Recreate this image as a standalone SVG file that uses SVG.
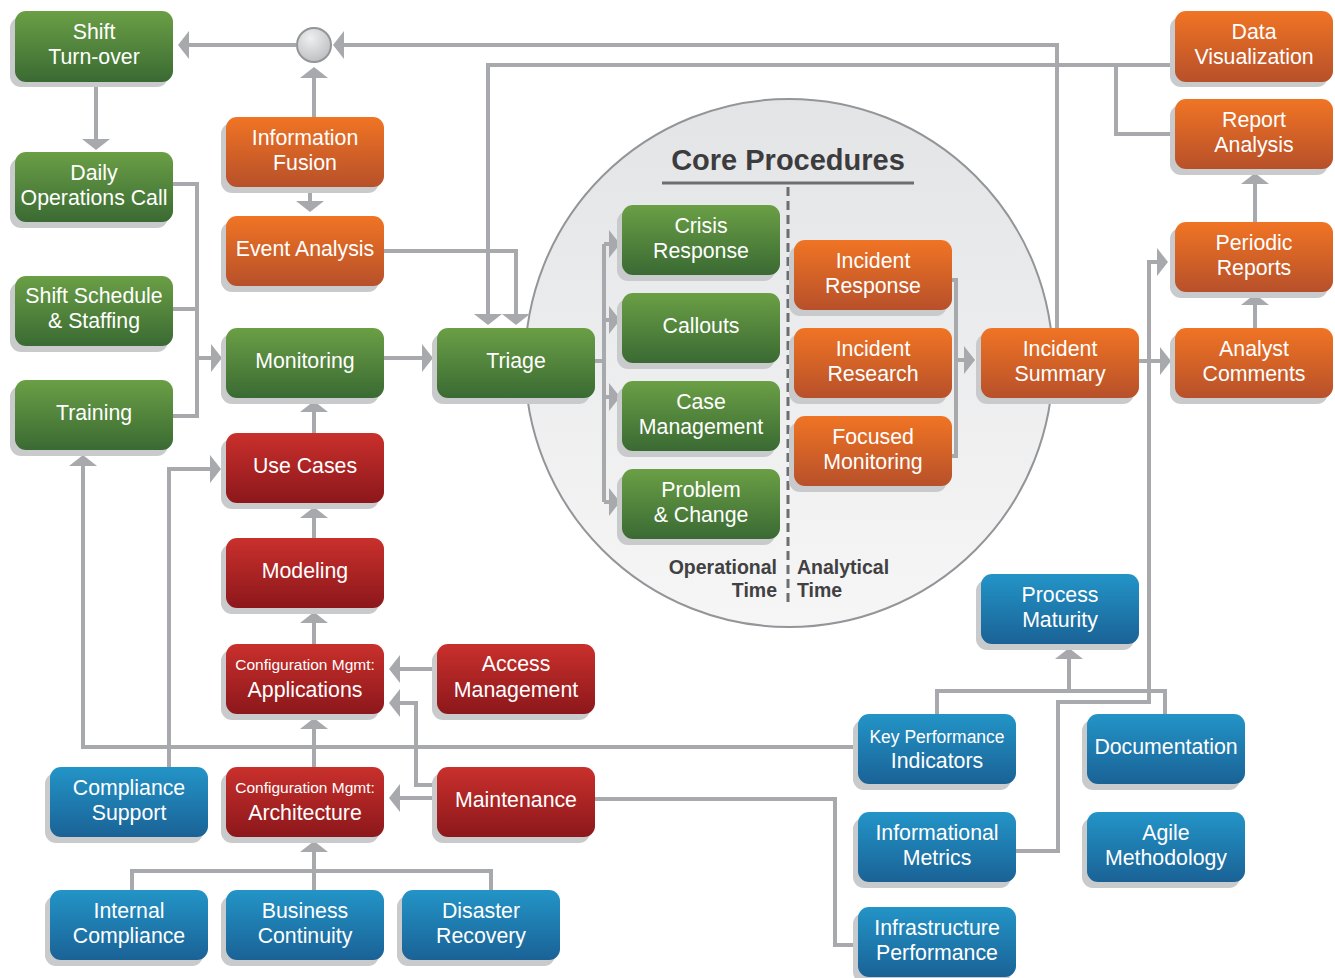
<svg xmlns="http://www.w3.org/2000/svg" width="1335" height="978" viewBox="0 0 1335 978">
<style>
.sh{fill:#c9cacc}
.g{fill:url(#gG)}.o{fill:url(#gO)}.r{fill:url(#gR)}.b{fill:url(#gB)}
.t{font-family:"Liberation Sans",Arial,sans-serif;font-size:21.3px;fill:#fff;text-anchor:middle}
.ts{font-size:15.5px}.tm{font-size:17.5px}
.c{fill:none;stroke:#a7a9ac;stroke-width:4}
.lbl{font-family:"Liberation Sans",Arial,sans-serif;font-weight:bold;font-size:19.5px;fill:#414042}
</style>
<defs>
<linearGradient id="gG" x1="0" y1="0" x2="0" y2="1"><stop offset="0" stop-color="#6a9f45"/><stop offset="1" stop-color="#3a6a33"/></linearGradient>
<linearGradient id="gO" x1="0" y1="0" x2="0" y2="1"><stop offset="0" stop-color="#f07424"/><stop offset="1" stop-color="#b7502a"/></linearGradient>
<linearGradient id="gR" x1="0" y1="0" x2="0" y2="1"><stop offset="0" stop-color="#c9302c"/><stop offset="1" stop-color="#8c171b"/></linearGradient>
<linearGradient id="gB" x1="0" y1="0" x2="0" y2="1"><stop offset="0" stop-color="#2394c7"/><stop offset="1" stop-color="#1a6296"/></linearGradient>
<linearGradient id="gC" x1="0" y1="0" x2="0" y2="1"><stop offset="0" stop-color="#e3e4e5"/><stop offset="1" stop-color="#f6f6f7"/></linearGradient>
<radialGradient id="gJ" cx="0.4" cy="0.3" r="0.8"><stop offset="0" stop-color="#eeeff0"/><stop offset="1" stop-color="#b8babd"/></radialGradient>
<marker id="ah" markerUnits="userSpaceOnUse" markerWidth="11" markerHeight="28" viewBox="0 0 11 28" refX="6" refY="14" orient="auto"><path d="M0,0 L11,14 L0,28 Z" fill="#a7a9ac"/></marker>
</defs>

<g id="core-procedures">
<circle cx="789" cy="363" r="264" fill="url(#gC)" stroke="#939598" stroke-width="2"/>
<text x="788" y="170" font-family="Liberation Sans,Arial,sans-serif" font-weight="bold" font-size="29" fill="#3c3c3e" text-anchor="middle">Core Procedures</text>
<line x1="662" y1="183" x2="914" y2="183" stroke="#6d6e71" stroke-width="3"/>
<line x1="788" y1="187" x2="788" y2="603" stroke="#6d6e71" stroke-width="3" stroke-dasharray="9 5"/>
<text class="lbl" x="777" y="574" text-anchor="end">Operational</text>
<text class="lbl" x="777" y="597" text-anchor="end">Time</text>
<text class="lbl" x="797" y="574">Analytical</text>
<text class="lbl" x="797" y="597">Time</text>
</g>

<g id="connectors">
<path class="c" d="M296,45 H183" marker-end="url(#ah)"/>
<path class="c" d="M1057,328 V45 H338" marker-end="url(#ah)"/>
<path class="c" d="M314,117 V72" marker-end="url(#ah)"/>
<path class="c" d="M310,187 V207" marker-end="url(#ah)"/>
<path class="c" d="M96,82 V145" marker-end="url(#ah)"/>
<path class="c" d="M173,184 H197 V416 H173 M173,309 H197"/>
<path class="c" d="M197,358 H217" marker-end="url(#ah)"/>
<path class="c" d="M384,358 H428" marker-end="url(#ah)"/>
<path class="c" d="M314,433 V406" marker-end="url(#ah)"/>
<path class="c" d="M314,538 V512" marker-end="url(#ah)"/>
<path class="c" d="M314,644 V617" marker-end="url(#ah)"/>
<path class="c" d="M314,767 V723" marker-end="url(#ah)"/>
<path class="c" d="M132,890 V871 H491 V890"/>
<path class="c" d="M314,890 V846" marker-end="url(#ah)"/>
<path class="c" d="M437,669 H394" marker-end="url(#ah)"/>
<path class="c" d="M437,785 H416 V703 H394" marker-end="url(#ah)"/>
<path class="c" d="M437,798 H394" marker-end="url(#ah)"/>
<path class="c" d="M595,799 H835 V945 H858"/>
<path class="c" d="M858,747 H83 V460" marker-end="url(#ah)"/>
<path class="c" d="M169,767 V469 H216" marker-end="url(#ah)"/>
<path class="c" d="M937,714 V691 H1165 V714"/>
<path class="c" d="M1069,691 V653" marker-end="url(#ah)"/>
<path class="c" d="M1016,851 H1058 V702 H1149 V262 H1163" marker-end="url(#ah)"/>
<path class="c" d="M1139,361 H1166" marker-end="url(#ah)"/>
<path class="c" d="M1255,328 V299" marker-end="url(#ah)"/>
<path class="c" d="M1255,222 V178" marker-end="url(#ah)"/>
<path class="c" d="M1175,65 H488 V320" marker-end="url(#ah)"/>
<path class="c" d="M1175,134 H1116 V65"/>
<path class="c" d="M384,251 H516 V320" marker-end="url(#ah)"/>
<path class="c" d="M595,361 H604 M604,244 V502"/>
<path class="c" d="M604,244 H615" marker-end="url(#ah)"/>
<path class="c" d="M604,320 H615" marker-end="url(#ah)"/>
<path class="c" d="M604,397 H615" marker-end="url(#ah)"/>
<path class="c" d="M604,502 H615" marker-end="url(#ah)"/>
<path class="c" d="M952,280 H956 V456 H952"/>
<path class="c" d="M956,360 H970" marker-end="url(#ah)"/>
<circle cx="314" cy="45" r="17" fill="url(#gJ)" stroke="#939598" stroke-width="2"/>
</g>

<g id="shift-turnover"><rect class="sh" x="10" y="17" width="158" height="70" rx="11"/><rect class="g" x="15" y="11" width="158" height="71" rx="11"/><text class="t" x="94" y="39">Shift</text><text class="t" x="94" y="64">Turn-over</text></g>
<g id="daily-operations-call"><rect class="sh" x="10" y="158" width="158" height="70" rx="11"/><rect class="g" x="15" y="152" width="158" height="70" rx="11"/><text class="t" x="94" y="180">Daily</text><text class="t" x="94" y="205">Operations Call</text></g>
<g id="shift-schedule"><rect class="sh" x="10" y="282" width="158" height="70" rx="11"/><rect class="g" x="15" y="276" width="158" height="70" rx="11"/><text class="t" x="94" y="303">Shift Schedule</text><text class="t" x="94" y="328">&amp; Staffing</text></g>
<g id="training"><rect class="sh" x="10" y="386" width="158" height="70" rx="11"/><rect class="g" x="15" y="380" width="158" height="70" rx="11"/><text class="t" x="94" y="420">Training</text></g>
<g id="monitoring"><rect class="sh" x="221" y="334" width="158" height="70" rx="11"/><rect class="g" x="226" y="328" width="158" height="70" rx="11"/><text class="t" x="305" y="368">Monitoring</text></g>
<g id="triage"><rect class="sh" x="432" y="334" width="158" height="70" rx="11"/><rect class="g" x="437" y="328" width="158" height="70" rx="11"/><text class="t" x="516" y="368">Triage</text></g>
<g id="crisis-response"><rect class="sh" x="617" y="211" width="158" height="70" rx="11"/><rect class="g" x="622" y="205" width="158" height="70" rx="11"/><text class="t" x="701" y="233">Crisis</text><text class="t" x="701" y="258">Response</text></g>
<g id="callouts"><rect class="sh" x="617" y="299" width="158" height="70" rx="11"/><rect class="g" x="622" y="293" width="158" height="70" rx="11"/><text class="t" x="701" y="333">Callouts</text></g>
<g id="case-management"><rect class="sh" x="617" y="387" width="158" height="70" rx="11"/><rect class="g" x="622" y="381" width="158" height="70" rx="11"/><text class="t" x="701" y="409">Case</text><text class="t" x="701" y="434">Management</text></g>
<g id="problem-change"><rect class="sh" x="617" y="475" width="158" height="70" rx="11"/><rect class="g" x="622" y="469" width="158" height="70" rx="11"/><text class="t" x="701" y="497">Problem</text><text class="t" x="701" y="522">&amp; Change</text></g>

<g id="information-fusion"><rect class="sh" x="221" y="123" width="158" height="70" rx="11"/><rect class="o" x="226" y="117" width="158" height="70" rx="11"/><text class="t" x="305" y="145">Information</text><text class="t" x="305" y="170">Fusion</text></g>
<g id="event-analysis"><rect class="sh" x="221" y="222" width="158" height="70" rx="11"/><rect class="o" x="226" y="216" width="158" height="70" rx="11"/><text class="t" x="305" y="256">Event Analysis</text></g>
<g id="incident-response"><rect class="sh" x="789" y="246" width="158" height="70" rx="11"/><rect class="o" x="794" y="240" width="158" height="70" rx="11"/><text class="t" x="873" y="268">Incident</text><text class="t" x="873" y="293">Response</text></g>
<g id="incident-research"><rect class="sh" x="789" y="334" width="158" height="70" rx="11"/><rect class="o" x="794" y="328" width="158" height="70" rx="11"/><text class="t" x="873" y="356">Incident</text><text class="t" x="873" y="381">Research</text></g>
<g id="focused-monitoring"><rect class="sh" x="789" y="422" width="158" height="70" rx="11"/><rect class="o" x="794" y="416" width="158" height="70" rx="11"/><text class="t" x="873" y="444">Focused</text><text class="t" x="873" y="469">Monitoring</text></g>
<g id="incident-summary"><rect class="sh" x="976" y="334" width="158" height="70" rx="11"/><rect class="o" x="981" y="328" width="158" height="70" rx="11"/><text class="t" x="1060" y="356">Incident</text><text class="t" x="1060" y="381">Summary</text></g>
<g id="data-visualization"><rect class="sh" x="1170" y="17" width="158" height="70" rx="11"/><rect class="o" x="1175" y="11" width="158" height="71" rx="11"/><text class="t" x="1254" y="39">Data</text><text class="t" x="1254" y="64">Visualization</text></g>
<g id="report-analysis"><rect class="sh" x="1170" y="105" width="158" height="70" rx="11"/><rect class="o" x="1175" y="99" width="158" height="70" rx="11"/><text class="t" x="1254" y="127">Report</text><text class="t" x="1254" y="152">Analysis</text></g>
<g id="periodic-reports"><rect class="sh" x="1170" y="228" width="158" height="70" rx="11"/><rect class="o" x="1175" y="222" width="158" height="70" rx="11"/><text class="t" x="1254" y="250">Periodic</text><text class="t" x="1254" y="275">Reports</text></g>
<g id="analyst-comments"><rect class="sh" x="1170" y="334" width="158" height="70" rx="11"/><rect class="o" x="1175" y="328" width="158" height="70" rx="11"/><text class="t" x="1254" y="356">Analyst</text><text class="t" x="1254" y="381">Comments</text></g>

<g id="use-cases"><rect class="sh" x="221" y="439" width="158" height="70" rx="11"/><rect class="r" x="226" y="433" width="158" height="70" rx="11"/><text class="t" x="305" y="473">Use Cases</text></g>
<g id="modeling"><rect class="sh" x="221" y="544" width="158" height="70" rx="11"/><rect class="r" x="226" y="538" width="158" height="70" rx="11"/><text class="t" x="305" y="578">Modeling</text></g>
<g id="config-applications"><rect class="sh" x="221" y="650" width="158" height="70" rx="11"/><rect class="r" x="226" y="644" width="158" height="70" rx="11"/><text class="t ts" x="305" y="670">Configuration Mgmt:</text><text class="t" x="305" y="697">Applications</text></g>
<g id="access-management"><rect class="sh" x="432" y="650" width="158" height="70" rx="11"/><rect class="r" x="437" y="644" width="158" height="70" rx="11"/><text class="t" x="516" y="671">Access</text><text class="t" x="516" y="697">Management</text></g>
<g id="config-architecture"><rect class="sh" x="221" y="773" width="158" height="70" rx="11"/><rect class="r" x="226" y="767" width="158" height="70" rx="11"/><text class="t ts" x="305" y="793">Configuration Mgmt:</text><text class="t" x="305" y="820">Architecture</text></g>
<g id="maintenance"><rect class="sh" x="432" y="773" width="158" height="70" rx="11"/><rect class="r" x="437" y="767" width="158" height="70" rx="11"/><text class="t" x="516" y="807">Maintenance</text></g>

<g id="process-maturity"><rect class="sh" x="976" y="580" width="158" height="70" rx="11"/><rect class="b" x="981" y="574" width="158" height="70" rx="11"/><text class="t" x="1060" y="602">Process</text><text class="t" x="1060" y="627">Maturity</text></g>
<g id="key-performance-indicators"><rect class="sh" x="853" y="720" width="158" height="70" rx="11"/><rect class="b" x="858" y="714" width="158" height="70" rx="11"/><text class="t tm" x="937" y="743">Key Performance</text><text class="t" x="937" y="768">Indicators</text></g>
<g id="documentation"><rect class="sh" x="1082" y="720" width="158" height="70" rx="11"/><rect class="b" x="1087" y="714" width="158" height="70" rx="11"/><text class="t" x="1166" y="754">Documentation</text></g>
<g id="informational-metrics"><rect class="sh" x="853" y="818" width="158" height="70" rx="11"/><rect class="b" x="858" y="812" width="158" height="70" rx="11"/><text class="t" x="937" y="840">Informational</text><text class="t" x="937" y="865">Metrics</text></g>
<g id="agile-methodology"><rect class="sh" x="1082" y="818" width="158" height="70" rx="11"/><rect class="b" x="1087" y="812" width="158" height="70" rx="11"/><text class="t" x="1166" y="840">Agile</text><text class="t" x="1166" y="865">Methodology</text></g>
<g id="infrastructure-performance"><rect class="sh" x="853" y="913" width="158" height="70" rx="11"/><rect class="b" x="858" y="907" width="158" height="70" rx="11"/><text class="t" x="937" y="935">Infrastructure</text><text class="t" x="937" y="960">Performance</text></g>
<g id="compliance-support"><rect class="sh" x="45" y="773" width="158" height="70" rx="11"/><rect class="b" x="50" y="767" width="158" height="70" rx="11"/><text class="t" x="129" y="795">Compliance</text><text class="t" x="129" y="820">Support</text></g>
<g id="internal-compliance"><rect class="sh" x="45" y="896" width="158" height="70" rx="11"/><rect class="b" x="50" y="890" width="158" height="70" rx="11"/><text class="t" x="129" y="918">Internal</text><text class="t" x="129" y="943">Compliance</text></g>
<g id="business-continuity"><rect class="sh" x="221" y="896" width="158" height="70" rx="11"/><rect class="b" x="226" y="890" width="158" height="70" rx="11"/><text class="t" x="305" y="918">Business</text><text class="t" x="305" y="943">Continuity</text></g>
<g id="disaster-recovery"><rect class="sh" x="397" y="896" width="158" height="70" rx="11"/><rect class="b" x="402" y="890" width="158" height="70" rx="11"/><text class="t" x="481" y="918">Disaster</text><text class="t" x="481" y="943">Recovery</text></g>
</svg>
